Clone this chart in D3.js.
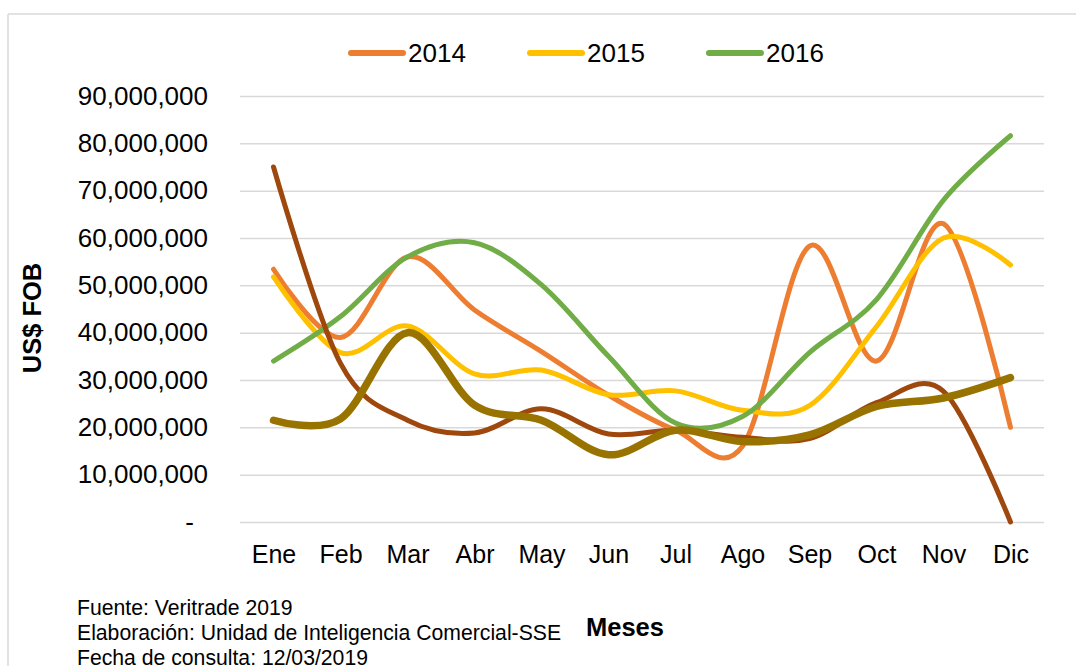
<!DOCTYPE html>
<html>
<head>
<meta charset="utf-8">
<script src="https://cdn.jsdelivr.net/npm/d3@7"></script>
<style>
  html, body { margin: 0; padding: 0; background: #fff; }
  svg { display: block; font-family: "Liberation Sans", Arial, sans-serif; }
</style>
</head>
<body>
<svg id="chart" width="1076" height="666"></svg>
<script>
const months = ["Ene","Feb","Mar","Abr","May","Jun","Jul","Ago","Sep","Oct","Nov","Dic"];
const yTicks = [0,10000000,20000000,30000000,40000000,50000000,60000000,70000000,80000000,90000000];
const legendNames = ["2014","2015","2016"];

const v2014 = [53.4e6, 39.0e6, 56.0e6, 44.8e6, 36.0e6, 26.8e6, 19.4e6, 16.0e6, 58.3e6, 34.0e6, 63.0e6, 20.0e6];
const v2015 = [51.8e6, 35.8e6, 41.4e6, 31.3e6, 32.1e6, 26.9e6, 27.7e6, 23.6e6, 24.6e6, 41.3e6, 60.0e6, 54.3e6];
const v2016 = [34.0e6, 43.4e6, 56.0e6, 59.0e6, 50.1e6, 35.0e6, 20.9e6, 22.3e6, 35.8e6, 47.0e6, 68.0e6, 81.6e6];
const vSerie4 = [75.0e6, 33.5e6, 21.5e6, 18.8e6, 23.9e6, 18.6e6, 19.4e6, 17.9e6, 17.6e6, 25.2e6, 27.6e6, 0];
const vSerie5 = [21.5e6, 21.8e6, 40.0e6, 24.7e6, 21.5e6, 14.2e6, 19.4e6, 17.0e6, 18.4e6, 24.4e6, 26.2e6, 30.5e6];

const colors = { s2014: "#ED7D31", s2015: "#FFC000", s2016: "#70AD47", s4: "#9E480E", s5: "#997300" };

const svg = d3.select("#chart");

// outer border (partial frame)
svg.append("line").attr("x1", 8).attr("y1", 14).attr("x2", 1076).attr("y2", 14)
  .attr("stroke", "#d9d9d9").attr("stroke-width", 1.5);
svg.append("line").attr("x1", 8).attr("y1", 14).attr("x2", 8).attr("y2", 666)
  .attr("stroke", "#d9d9d9").attr("stroke-width", 1.5);

const plotL = 240, plotR = 1044, plotT = 96, plotB = 522;

const x = d3.scalePoint().domain(months).range([plotL, plotR]).padding(0.5);
const y = d3.scaleLinear().domain([0, 90000000]).range([plotB, plotT]);

// y axis with gridlines
const yAxis = d3.axisLeft(y)
  .tickValues(yTicks)
  .tickSize(-(plotR - plotL))
  .tickPadding(32)
  .tickFormat(d => d === 0 ? "-" : d3.format(",")(d));

const gy = svg.append("g").attr("transform", `translate(${plotL},0)`).call(yAxis);
gy.select(".domain").remove();
gy.selectAll(".tick line").attr("stroke", "#d9d9d9").attr("stroke-width", 1.5);
gy.selectAll(".tick text")
  .attr("font-size", 26)
  .attr("fill", "#000")
  .attr("font-family", "'Liberation Sans', Arial, sans-serif");
gy.selectAll(".tick text").filter(d => d === 0).attr("dx", -14);

// x axis labels
const xAxis = d3.axisBottom(x).tickSize(0).tickPadding(23);
const gx = svg.append("g").attr("transform", `translate(0,${plotB})`).call(xAxis);
gx.select(".domain").remove();
gx.selectAll(".tick text")
  .attr("font-size", 25)
  .attr("fill", "#000")
  .attr("font-family", "'Liberation Sans', Arial, sans-serif");

// lines
const line = d3.line()
  .x((d, i) => x(months[i]))
  .y(d => y(d))
  .curve(d3.curveCatmullRom.alpha(0));

const seriesList = [
  { vals: v2014, color: colors.s2014, w: 5 },
  { vals: v2015, color: colors.s2015, w: 5 },
  { vals: v2016, color: colors.s2016, w: 5 },
  { vals: vSerie4, color: colors.s4, w: 5 },
  { vals: vSerie5, color: colors.s5, w: 7.5 }
];

svg.append("g").selectAll("path").data(seriesList).join("path")
  .attr("d", s => line(s.vals))
  .attr("fill", "none")
  .attr("stroke", s => s.color)
  .attr("stroke-width", s => s.w)
  .attr("stroke-linecap", "round")
  .attr("stroke-linejoin", "round");

// legend
const legendColors = [colors.s2014, colors.s2015, colors.s2016];
const lg = svg.append("g");
legendNames.forEach((name, i) => {
  const lx = 351 + i * 179;
  lg.append("line").attr("x1", lx).attr("x2", lx + 52).attr("y1", 53).attr("y2", 53)
    .attr("stroke", legendColors[i]).attr("stroke-width", 6).attr("stroke-linecap", "round");
  lg.append("text").attr("x", lx + 57).attr("y", 62).attr("font-size", 26).attr("fill", "#000").text(name);
});

// axis titles
svg.append("text")
  .attr("transform", "translate(41,318) rotate(-90)")
  .attr("text-anchor", "middle")
  .attr("font-size", 25.5).attr("font-weight", "bold").attr("fill", "#000")
  .text("US$ FOB");

svg.append("text")
  .attr("x", 625).attr("y", 636)
  .attr("text-anchor", "middle")
  .attr("font-size", 25.5).attr("font-weight", "bold").attr("fill", "#000")
  .text("Meses");

// source notes
const notes = ["Fuente: Veritrade 2019", "Elaboración: Unidad de Inteligencia Comercial-SSE", "Fecha de consulta: 12/03/2019"];
svg.append("g").selectAll("text").data(notes).join("text")
  .attr("x", 77).attr("y", (d, i) => 615 + i * 25)
  .attr("font-size", 21.2).attr("fill", "#000")
  .text(d => d);
</script>
</body>
</html>
